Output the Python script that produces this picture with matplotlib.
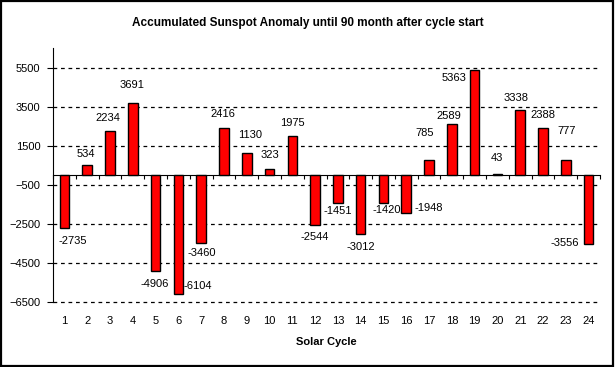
import matplotlib
matplotlib.use("Agg")
import matplotlib.pyplot as plt
from matplotlib.patches import Rectangle

plt.rcParams['font.family'] = ['Liberation Sans', 'DejaVu Sans']

# accumulated anomaly per solar cycle (90 months after start)
cycles = list(range(1, 25))
anomaly = [-2735, 534, 2234, 3691, -4906, -6104, -3460, 2416, 1130, 323,
           1975, -2544, -1451, -3012, -1420, -1948, 785, 2589, 5363, 43,
           3338, 2388, 777, -3556]
yticks = [5500, 3500, 1500, -500, -2500, -4500, -6500]

# label nudges in pixels relative to the bar end (as placed in the original)
label_offsets = [(8, -13), (-1, 11), (-2, 13), (-1, 18), (-1, -13), (19, 8),
                 (1, -10), (-1, 14), (3, 18), (0, 14), (0, 13), (0, -12),
                 (0, -8), (0, -13), (3, -7), (22, 5), (-4, 27), (-3, 8),
                 (-21, -8), (0, 16), (-4, 12), (0, 13), (1, 29), (-24, 1)]

fig = plt.figure(figsize=(6.15, 3.67), dpi=100)
ax = fig.add_axes([53 / 615, 1 - 302 / 367, (600 - 53) / 615, 254 / 367])

ax.bar(cycles, anomaly, width=0.42, color='#ff0000', edgecolor='black',
       linewidth=1.0, zorder=3)

for x, v, (dx, dy) in zip(cycles, anomaly, label_offsets):
    ax.annotate(str(v), (x, v), xytext=(dx, dy), textcoords='offset pixels',
                ha='center', va='center', fontsize=8, zorder=4)

ax.set_xlim(0.5, 24.5)
ax.set_ylim(-6500, 6500)
ax.set_yticks(yticks)
ax.tick_params(axis='y', length=4, width=0.8, pad=5, labelsize=8)
ax.yaxis.grid(True, linestyle=(0, (3, 3)), color='black', linewidth=0.9)
for gl in ax.get_ygridlines():
    gl.set_clip_on(False)
ax.set_axisbelow(True)

# category axis line sits at zero, ticks between bars
ax.spines['bottom'].set_position(('data', 0))
ax.spines['top'].set_visible(False)
ax.spines['right'].set_visible(False)
ax.set_xticks([c + 0.5 for c in [0] + cycles])
ax.tick_params(axis='x', length=3, width=0.8, labelbottom=False)

# labels sit at the bottom of the plot area
sec = ax.secondary_xaxis('bottom')
sec.set_xticks(cycles)
sec.set_xticklabels([str(c) for c in cycles])
sec.tick_params(length=0, pad=10, labelsize=8)
sec.spines['bottom'].set_visible(False)
sec.set_xlabel("Solar Cycle", fontsize=8, fontweight='bold', labelpad=8)

fig.text(0.5, 1 - 23 / 367, "Accumulated Sunspot Anomaly until 90 month after cycle start",
         ha='center', va='center', fontsize=8.5, fontweight='bold')

fig.patches.append(Rectangle((0.0015, 0.002), 0.996, 0.995, transform=fig.transFigure,
                             fill=False, edgecolor='black', linewidth=1.6))

fig.savefig("out.png", dpi=100)
